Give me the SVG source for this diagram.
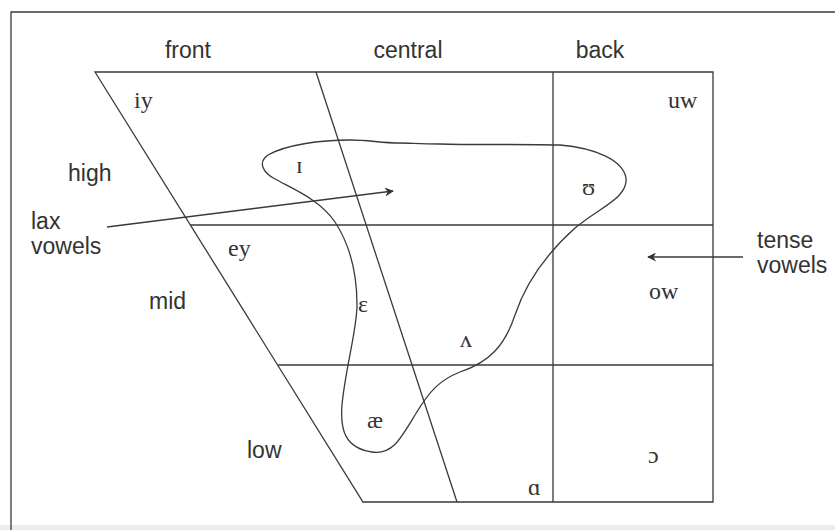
<svg xmlns="http://www.w3.org/2000/svg" width="835" height="530" viewBox="0 0 835 530">
<defs>
<marker id="ah" viewBox="0 0 10 10" refX="9" refY="5" markerWidth="13" markerHeight="9" markerUnits="userSpaceOnUse" orient="auto">
<path d="M0,0 L10,5 L0,10 L3,5 Z" fill="#333"/>
</marker>
</defs>
<style>
.ln{stroke:#3a3a3a;stroke-width:1.3;fill:none}
.lbl{font-family:"Liberation Sans",Arial,sans-serif;font-size:23px;fill:#333}
.v{font-family:"Liberation Serif","Times New Roman",serif;font-size:24px;fill:#333}
</style>
<rect x="0" y="0" width="835" height="530" fill="#fff"/>
<rect x="0" y="525" width="835" height="5" fill="#ececec"/>
<g id="frame">
<path class="ln" d="M11,530 L11,12 L835,12"/>
</g>
<g id="chart">
<path class="ln" d="M95,72 L713,72 L713,502 L363,502 Z"/>
<path class="ln" d="M316,72 L457,502"/>
<path class="ln" d="M553,72 L553,502"/>
<path class="ln" d="M190,225 L713,225"/>
<path class="ln" d="M278,365 L713,365"/>
</g>
<g id="lax-region">
<path class="ln" d="M400,143 C380,143 370,140 350,140 C320,140 285,145 268,155 C258,162 262,172 275,179 C295,190 320,200 335,222 C350,245 357,275 357,305 C357,330 345,370 342,405 C340,430 345,448 372,452 C392,455 400,440 415,415 C430,390 440,380 460,372 C490,362 505,345 515,315 C525,285 545,255 575,228 C600,207 628,198 626,178 C623,160 595,148 560,145 C520,144 470,145 440,144 C420,144 410,143 400,143 Z"/>
</g>
<g id="connectors">
<path class="ln" d="M107,227 L393,191" marker-end="url(#ah)"/>
<path class="ln" d="M743,257 L648,257" marker-end="url(#ah)"/>
</g>
<g id="axis-labels">
<text class="lbl" x="188" y="58" text-anchor="middle">front</text>
<text class="lbl" x="408" y="58" text-anchor="middle">central</text>
<text class="lbl" x="600" y="58" text-anchor="middle">back</text>
<text class="lbl" x="68" y="181">high</text>
<text class="lbl" x="149" y="309">mid</text>
<text class="lbl" x="247" y="458">low</text>
</g>
<g id="lax-label">
<text class="lbl" x="31" y="229">lax</text>
<text class="lbl" x="31" y="254">vowels</text>
</g>
<g id="tense-label">
<text class="lbl" x="757" y="248">tense</text>
<text class="lbl" x="757" y="273">vowels</text>
</g>
<g id="vowels">
<text class="v" x="134" y="108">iy</text>
<text class="v" x="668" y="108">uw</text>
<text class="v" x="296" y="173">ɪ</text>
<text class="v" x="582" y="195">ʊ</text>
<text class="v" x="228" y="256">ey</text>
<text class="v" x="358" y="312">ɛ</text>
<text class="v" x="460" y="347">ʌ</text>
<text class="v" x="649" y="299">ow</text>
<text class="v" x="367" y="428">æ</text>
<text class="v" x="648" y="463">ɔ</text>
<text class="v" x="528" y="495">ɑ</text>
</g>
</svg>
